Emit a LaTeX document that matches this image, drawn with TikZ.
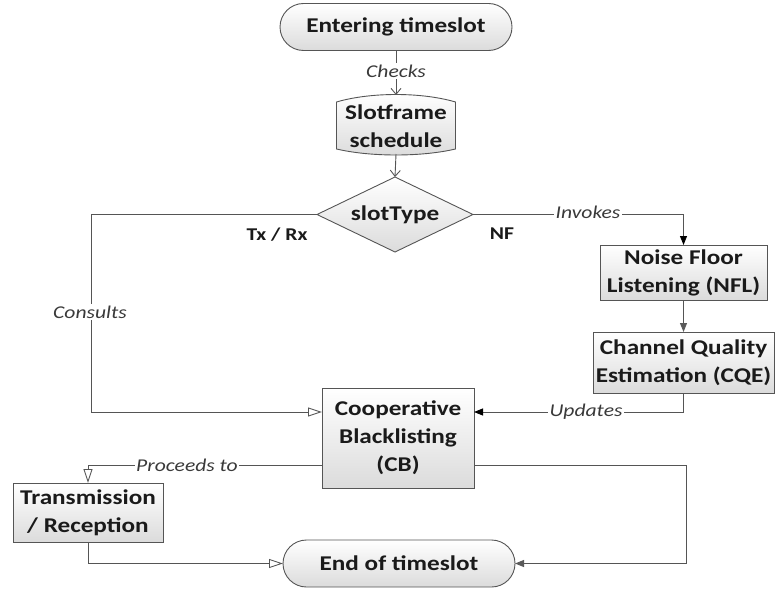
\documentclass[tikz,border=0pt]{standalone}
\usepackage{fontspec}
\setmainfont{Carlito}[FakeStretch=1.2]
\usetikzlibrary{arrows.meta,shapes.geometric,shapes.misc}
\definecolor{edge}{HTML}{555555}
\definecolor{ink}{HTML}{1A1A1A}
\definecolor{labink}{HTML}{3A3A3A}
\definecolor{tipgrey}{HTML}{5A5A5A}
\newcommand\blockfont{\bfseries\fontsize{21}{28}\selectfont}
\newcommand\labfont{\itshape\fontsize{18}{20}\selectfont}
\newcommand\brfont{\bfseries\fontsize{18}{20}\selectfont}
\begin{document}
\begin{tikzpicture}[x=1pt,y=-1pt,
  every node/.style={inner sep=0pt, outer sep=0pt},
  shaded/.style={top color=white, bottom color=black!14},
  stepbox/.style={shaded, draw=edge, line width=0.9pt, font=\blockfont,
    text=ink, align=center, rectangle},
  terminal/.style={stepbox, rounded rectangle},
  decision/.style={stepbox, diamond},
  flow/.style={draw=edge, line width=0.9pt},
  vtip/.style={-{Straight Barb[length=6pt,width=10pt]}},
  opentri/.style={-{Triangle[open,length=14pt,width=9pt,fill=white]}},
  blacktip/.style={-{Triangle[length=9pt,width=7pt,fill=black,color=black]}},
  greytip/.style={-{Triangle[length=9pt,width=7pt,fill=tipgrey,color=tipgrey]}},
  lab/.style={font=\labfont, text=labink, fill=white, inner sep=1.5pt},
  branch/.style={font=\brfont, text=ink}]
\useasboundingbox (0,0) rectangle (775,591);

% blocks
\node[terminal, minimum width=232pt, minimum height=47pt] (enter) at (396,27) {Entering timeslot};
\node[rectangle, minimum width=119pt, minimum height=59pt, font=\blockfont, text=ink, align=center] (slot) at (396,124.5) {};
\path[shaded, draw=edge, line width=0.9pt]
  ([yshift=-7pt]slot.north west) .. controls ([xshift=34pt,yshift=3pt]slot.north west) and ([xshift=-34pt,yshift=3pt]slot.north east) .. ([yshift=-7pt]slot.north east)
  -- ([yshift=5pt]slot.south east) .. controls ([xshift=-34pt,yshift=-3pt]slot.south east) and ([xshift=34pt,yshift=-3pt]slot.south west) .. ([yshift=5pt]slot.south west)
  -- cycle;
\node[font=\blockfont, text=ink, align=center] at ([yshift=-2pt]slot.center) {Slotframe\\schedule};
\node[decision, minimum width=156pt, minimum height=75pt, aspect=2] (dia) at (395,214.5) {slotType};
\node[stepbox, minimum width=167pt, minimum height=55pt] (nfl) at (683.5,272.5) {Noise Floor\\Listening (NFL)};
\node[stepbox, minimum width=181pt, minimum height=61pt] (cqe) at (683.5,362.5) {Channel Quality\\Estimation (CQE)};
\node[stepbox, minimum width=152pt, minimum height=100pt] (cb) at (398,438) {Cooperative\\Blacklisting\\(CB)};
\node[stepbox, minimum width=150pt, minimum height=59pt] (tr) at (88,512.5) {Transmission\\/ Reception};
\node[terminal, minimum width=232pt, minimum height=47pt] (end) at (399,563.5) {End of timeslot};

% bends of the connectors
\coordinate (kL) at (91,412);
\coordinate (kR) at (686,465);

% connectors
\draw[flow, vtip] (enter.south) -- (slot.north);
\draw[flow, vtip] (slot.south) -- (dia.north);
\draw[flow, opentri] (dia.west) -| (kL) -- ([yshift=26pt]cb.west);
\draw[flow, blacktip] (dia.east) -| (nfl.north);
\draw[flow, greytip] (nfl.south) -- (cqe.north);
\draw[flow, blacktip] (cqe.south) |- ([yshift=26pt]cb.east);
\draw[flow, opentri] ([yshift=-27pt]cb.west) -| (tr.north);
\draw[flow, opentri] (tr.south) |- (end.west);
\draw[flow, greytip] ([yshift=-27pt]cb.east) -- (kR) |- (end.east);

% connector labels
\node[lab] (lchecks) at (396,71) {Checks};
\node[lab] (lconsults) at (90,312) {Consults};
\node[lab] (linvokes) at (588,212) {Invokes};
\node[lab] (lupdates) at (586,412) {Updates};
\node[lab] (lproceeds) at (187,465) {Proceeds to};
\node[branch] (ltxrx) at (277,235) {Tx / Rx};
\node[branch] (lnf) at (502,234) {NF};
\end{tikzpicture}
\end{document}
